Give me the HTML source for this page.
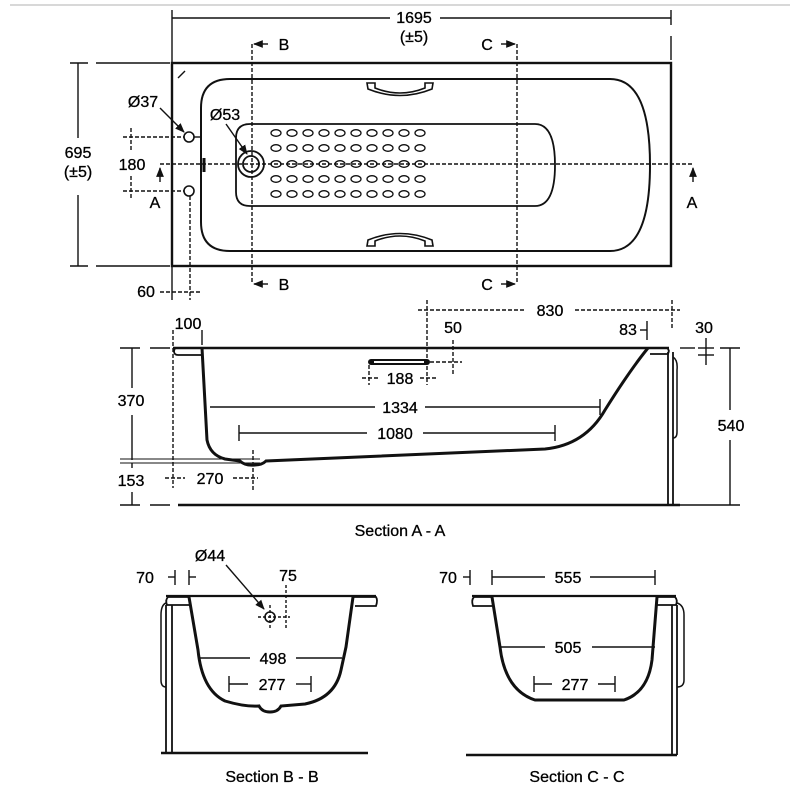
<!DOCTYPE html>
<html><head><meta charset="utf-8"><style>
html,body{margin:0;padding:0;background:#fff;}
svg{display:block;}
text{font-family:"Liberation Sans",Arial,sans-serif;font-size:16px;fill:#000;stroke:#000;stroke-width:0.3px;}
</style></head><body>
<svg width="800" height="800" viewBox="0 0 800 800" xmlns="http://www.w3.org/2000/svg">
<defs>
<marker id="ah" viewBox="0 0 10 10" refX="9" refY="5" markerWidth="7" markerHeight="7" orient="auto-start-reverse"><path d="M0,1 L10,5 L0,9 Z" fill="#111"/></marker>
<g id="row">
<ellipse cx="276" cy="0" rx="5" ry="3.3"/><ellipse cx="292" cy="0" rx="5" ry="3.3"/><ellipse cx="308" cy="0" rx="5" ry="3.3"/><ellipse cx="324" cy="0" rx="5" ry="3.3"/><ellipse cx="340" cy="0" rx="5" ry="3.3"/><ellipse cx="356" cy="0" rx="5" ry="3.3"/><ellipse cx="372" cy="0" rx="5" ry="3.3"/><ellipse cx="388" cy="0" rx="5" ry="3.3"/><ellipse cx="404" cy="0" rx="5" ry="3.3"/><ellipse cx="420" cy="0" rx="5" ry="3.3"/>
</g>
</defs>
<line x1="10" y1="5" x2="790" y2="5" stroke="#ccc" stroke-width="1.5"/>
<g stroke="#111" fill="none" stroke-width="1.4">
<!-- TOP VIEW -->
<line x1="172" y1="10" x2="172" y2="300"/>
<line x1="172" y1="18" x2="390" y2="18"/><line x1="440" y1="18" x2="671" y2="18"/>
<line x1="671" y1="10" x2="671" y2="25"/><line x1="671" y1="36" x2="671" y2="60"/>
<rect x="172" y="63" width="499" height="203" stroke-width="2.4"/>
<line x1="70" y1="63" x2="88" y2="63"/><line x1="96" y1="63" x2="170" y2="63"/>
<line x1="70" y1="266" x2="88" y2="266"/><line x1="96" y1="266" x2="170" y2="266"/>
<line x1="78" y1="63" x2="78" y2="138"/><line x1="78" y1="195" x2="78" y2="266"/>
<line x1="178" y1="78" x2="185" y2="71"/>
<path d="M230,79 L610,79 Q650,79 650,165 Q650,251 610,251 L230,251 Q201,251 201,222 L201,108 Q201,79 230,79 Z" stroke-width="2"/>
<path d="M250,124 L535,124 Q555,124 555,165 Q555,206 535,206 L250,206 Q236,206 236,192 L236,138 Q236,124 250,124 Z" stroke-width="1.8"/>
<path d="M367,83 L375,83 L375,88 Q400,98 425,88 L425,83 L433,83 L432,89 Q400,102 368,89 Z" stroke-width="1.6"/>
<path d="M367,246 L375,246 L375,241 Q400,231 425,241 L425,246 L433,246 L432,240 Q400,227 368,240 Z" stroke-width="1.6"/>
<circle cx="251" cy="164" r="13" stroke-width="1.8"/><circle cx="251" cy="164" r="8" stroke-width="1.8"/>
<circle cx="189" cy="137" r="5" stroke-width="1.6"/><circle cx="189" cy="191" r="5" stroke-width="1.6"/>
<line x1="194" y1="137" x2="200" y2="137"/>
<line x1="204" y1="158" x2="204" y2="172" stroke-width="3"/>
<line x1="160" y1="108" x2="184" y2="132" marker-end="url(#ah)"/>
<line x1="226" y1="124" x2="247" y2="154" marker-end="url(#ah)"/>
<g stroke-dasharray="4,2">
<line x1="160" y1="164" x2="693" y2="164"/>
<line x1="252" y1="44" x2="252" y2="284"/>
<line x1="517" y1="44" x2="517" y2="284"/>
<line x1="123" y1="137" x2="184" y2="137"/><line x1="123" y1="191" x2="184" y2="191"/>
<line x1="131" y1="128" x2="131" y2="152"/><line x1="131" y1="176" x2="131" y2="200"/>
<line x1="190" y1="196" x2="190" y2="300"/>
<line x1="160" y1="292" x2="200" y2="292"/>
</g>
<line x1="160" y1="182" x2="160" y2="168" marker-end="url(#ah)"/>
<line x1="693" y1="182" x2="693" y2="168" marker-end="url(#ah)"/>
<line x1="268" y1="44" x2="254" y2="44" marker-end="url(#ah)"/>
<line x1="268" y1="284" x2="254" y2="284" marker-end="url(#ah)"/>
<line x1="501" y1="44" x2="515" y2="44" marker-end="url(#ah)"/>
<line x1="501" y1="284" x2="515" y2="284" marker-end="url(#ah)"/>

<!-- SECTION A-A -->
<line x1="173" y1="348" x2="669" y2="348" stroke-width="2.4"/>
<path d="M175,348 L202,348 L202,355 L178,355 Q174,355 174,351 Z" stroke-width="1.8"/>
<path d="M202,348 L207,440 Q210,455 225,459 L240,461 Q245,466 255,465 Q262,465 266,461 L545,449 Q585,445 605,410 Q630,370 648,348" stroke-width="3"/>
<path d="M647,348 L667,348 Q670,350 668,354 L650,354" stroke-width="1.8"/>
<line x1="668" y1="352" x2="668" y2="505" stroke-width="1.8"/>
<line x1="673" y1="352" x2="673" y2="505" stroke-width="1.8"/>
<path d="M673,357 Q678,360 677,370 L677,432 Q677,438 673,438" stroke-width="1.5"/>
<line x1="178" y1="505" x2="680" y2="505" stroke-width="2.4"/>
<path d="M371,362 L427,362" stroke-width="6" stroke-linecap="round"/>
<path d="M374,362 L424,362" stroke="#fff" stroke-width="2"/>
<g stroke-dasharray="4,2">
<line x1="418" y1="310" x2="525" y2="310"/><line x1="575" y1="310" x2="680" y2="310"/>
<line x1="427" y1="300" x2="427" y2="385"/><line x1="672" y1="300" x2="672" y2="330"/>
<line x1="453" y1="340" x2="453" y2="375"/><line x1="430" y1="362" x2="462" y2="362"/>
<line x1="369" y1="365" x2="369" y2="385"/>
<line x1="362" y1="378" x2="380" y2="378"/><line x1="420" y1="378" x2="438" y2="378"/>
<line x1="173" y1="330" x2="173" y2="488"/>
<line x1="165" y1="478" x2="185" y2="478"/><line x1="233" y1="478" x2="258" y2="478"/>
<line x1="253" y1="450" x2="253" y2="490"/>
</g>
<line x1="202" y1="330" x2="202" y2="345"/>
<line x1="647" y1="321" x2="647" y2="340"/><line x1="640" y1="330" x2="647" y2="330"/>
<line x1="698" y1="348" x2="714" y2="348"/><line x1="698" y1="355" x2="714" y2="355"/>
<line x1="706" y1="338" x2="706" y2="365"/>
<line x1="120" y1="348" x2="140" y2="348"/><line x1="150" y1="348" x2="170" y2="348"/>
<line x1="132" y1="348" x2="132" y2="388"/><line x1="132" y1="415" x2="132" y2="460"/>
<line x1="120" y1="459" x2="260" y2="459" stroke-width="1"/><line x1="120" y1="463" x2="260" y2="463" stroke-width="1"/>
<line x1="132" y1="463" x2="132" y2="468"/><line x1="132" y1="492" x2="132" y2="505"/>
<line x1="120" y1="505" x2="140" y2="505"/><line x1="150" y1="505" x2="170" y2="505"/>
<line x1="680" y1="348" x2="695" y2="348"/><line x1="680" y1="505" x2="720" y2="505"/>
<line x1="720" y1="348" x2="740" y2="348"/><line x1="720" y1="505" x2="740" y2="505"/>
<line x1="730" y1="348" x2="730" y2="410"/><line x1="730" y1="440" x2="730" y2="505"/>
<line x1="210" y1="407" x2="375" y2="407"/><line x1="425" y1="407" x2="600" y2="407"/>
<line x1="600" y1="399" x2="600" y2="415"/>
<line x1="239" y1="433" x2="367" y2="433"/><line x1="423" y1="433" x2="555" y2="433"/>
<line x1="239" y1="425" x2="239" y2="441"/><line x1="555" y1="425" x2="555" y2="441"/>

<!-- SECTION B-B -->
<line x1="166" y1="596" x2="376" y2="596" stroke-width="2.2"/>
<path d="M189,597 L168,597 Q165,600 167,605 L189,605" stroke-width="1.8"/>
<path d="M189,597 L198,650 Q202,690 225,701 Q245,707 259,706 Q262,712 270,712 Q278,712 281,706 L305,704 Q335,698 341,670 L346,647 L353,597" stroke-width="3"/>
<path d="M353,597 L376,597 Q378,600 376,606 L355,606" stroke-width="1.8"/>
<line x1="166" y1="605" x2="166" y2="753" stroke-width="1.8"/>
<line x1="172" y1="605" x2="172" y2="753" stroke-width="1.8"/>
<path d="M166,603 Q161,605 161,615 L161,680 Q161,687 166,687" stroke-width="1.5"/>
<line x1="161" y1="753" x2="368" y2="753" stroke-width="2.4"/>
<line x1="175" y1="570" x2="175" y2="585"/><line x1="168" y1="577" x2="175" y2="577"/>
<line x1="189" y1="570" x2="189" y2="585"/><line x1="189" y1="577" x2="196" y2="577"/>
<line x1="226" y1="565" x2="264" y2="609" marker-end="url(#ah)"/>
<circle cx="270" cy="617" r="5" stroke-width="1.6"/>
<g stroke-dasharray="3,2">
<line x1="258" y1="617" x2="290" y2="617"/><line x1="270" y1="605" x2="270" y2="630"/>
<line x1="286" y1="585" x2="286" y2="630"/>
</g>
<line x1="198" y1="658" x2="250" y2="658"/><line x1="296" y1="658" x2="342" y2="658"/>
<line x1="229" y1="684" x2="248" y2="684"/><line x1="296" y1="684" x2="311" y2="684"/>
<line x1="229" y1="676" x2="229" y2="692"/><line x1="311" y1="676" x2="311" y2="692"/>

<!-- SECTION C-C -->
<line x1="472" y1="596" x2="676" y2="596" stroke-width="2.2"/>
<path d="M492,597 L474,597 Q471,600 473,606 L492,606" stroke-width="1.8"/>
<path d="M492,597 L500,647 Q505,690 535,700 L624,700 Q648,692 652,660 L657,597" stroke-width="3"/>
<path d="M657,597 L675,597 Q678,600 676,605 L657,605" stroke-width="1.8"/>
<line x1="672" y1="605" x2="672" y2="755" stroke-width="1.8"/>
<line x1="677" y1="605" x2="677" y2="755" stroke-width="1.8"/>
<path d="M677,603 Q684,605 684,615 L684,680 Q684,687 677,687" stroke-width="1.5"/>
<line x1="466" y1="755" x2="677" y2="755" stroke-width="2.4"/>
<line x1="470" y1="570" x2="470" y2="585"/><line x1="463" y1="577" x2="470" y2="577"/>
<line x1="492" y1="570" x2="492" y2="585"/><line x1="492" y1="577" x2="545" y2="577"/>
<line x1="590" y1="577" x2="655" y2="577"/><line x1="655" y1="570" x2="655" y2="585"/>
<line x1="500" y1="647" x2="545" y2="647"/><line x1="592" y1="647" x2="655" y2="647"/>
<line x1="534" y1="684" x2="552" y2="684"/><line x1="598" y1="684" x2="615" y2="684"/>
<line x1="534" y1="676" x2="534" y2="692"/><line x1="615" y1="676" x2="615" y2="692"/>
</g>
<!-- dots -->
<g fill="none" stroke="#111" stroke-width="1.3">
<use href="#row" transform="translate(0,133)"/>
<use href="#row" transform="translate(0,148)"/>
<use href="#row" transform="translate(0,164)"/>
<use href="#row" transform="translate(0,179)"/>
<use href="#row" transform="translate(0,194)"/>
</g>
<!-- TEXT -->
<text x="414" y="23" text-anchor="middle">1695</text>
<text x="414" y="42" text-anchor="middle">(±5)</text>
<text x="78" y="158" text-anchor="middle">695</text>
<text x="78" y="177" text-anchor="middle">(±5)</text>
<text x="143" y="107" text-anchor="middle">Ø37</text>
<text x="225" y="120" text-anchor="middle">Ø53</text>
<text x="132" y="170" text-anchor="middle">180</text>
<text x="155" y="208" text-anchor="middle">A</text>
<text x="692" y="208" text-anchor="middle">A</text>
<text x="284" y="50" text-anchor="middle">B</text>
<text x="284" y="290" text-anchor="middle">B</text>
<text x="487" y="50" text-anchor="middle">C</text>
<text x="487" y="290" text-anchor="middle">C</text>
<text x="146" y="297" text-anchor="middle">60</text>
<text x="188" y="329" text-anchor="middle">100</text>
<text x="550" y="316" text-anchor="middle">830</text>
<text x="453" y="333" text-anchor="middle">50</text>
<text x="628" y="335" text-anchor="middle">83</text>
<text x="704" y="333" text-anchor="middle">30</text>
<text x="400" y="384" text-anchor="middle">188</text>
<text x="131" y="406" text-anchor="middle">370</text>
<text x="400" y="413" text-anchor="middle">1334</text>
<text x="395" y="439" text-anchor="middle">1080</text>
<text x="731" y="431" text-anchor="middle">540</text>
<text x="131" y="486" text-anchor="middle">153</text>
<text x="210" y="484" text-anchor="middle">270</text>
<text x="400" y="536" text-anchor="middle">Section A - A</text>
<text x="145" y="583" text-anchor="middle">70</text>
<text x="210" y="561" text-anchor="middle">Ø44</text>
<text x="288" y="581" text-anchor="middle">75</text>
<text x="273" y="664" text-anchor="middle">498</text>
<text x="272" y="690" text-anchor="middle">277</text>
<text x="272" y="782" text-anchor="middle">Section B - B</text>
<text x="448" y="583" text-anchor="middle">70</text>
<text x="568" y="583" text-anchor="middle">555</text>
<text x="568" y="653" text-anchor="middle">505</text>
<text x="575" y="690" text-anchor="middle">277</text>
<text x="577" y="782" text-anchor="middle">Section C - C</text>
</svg>
</body></html>
